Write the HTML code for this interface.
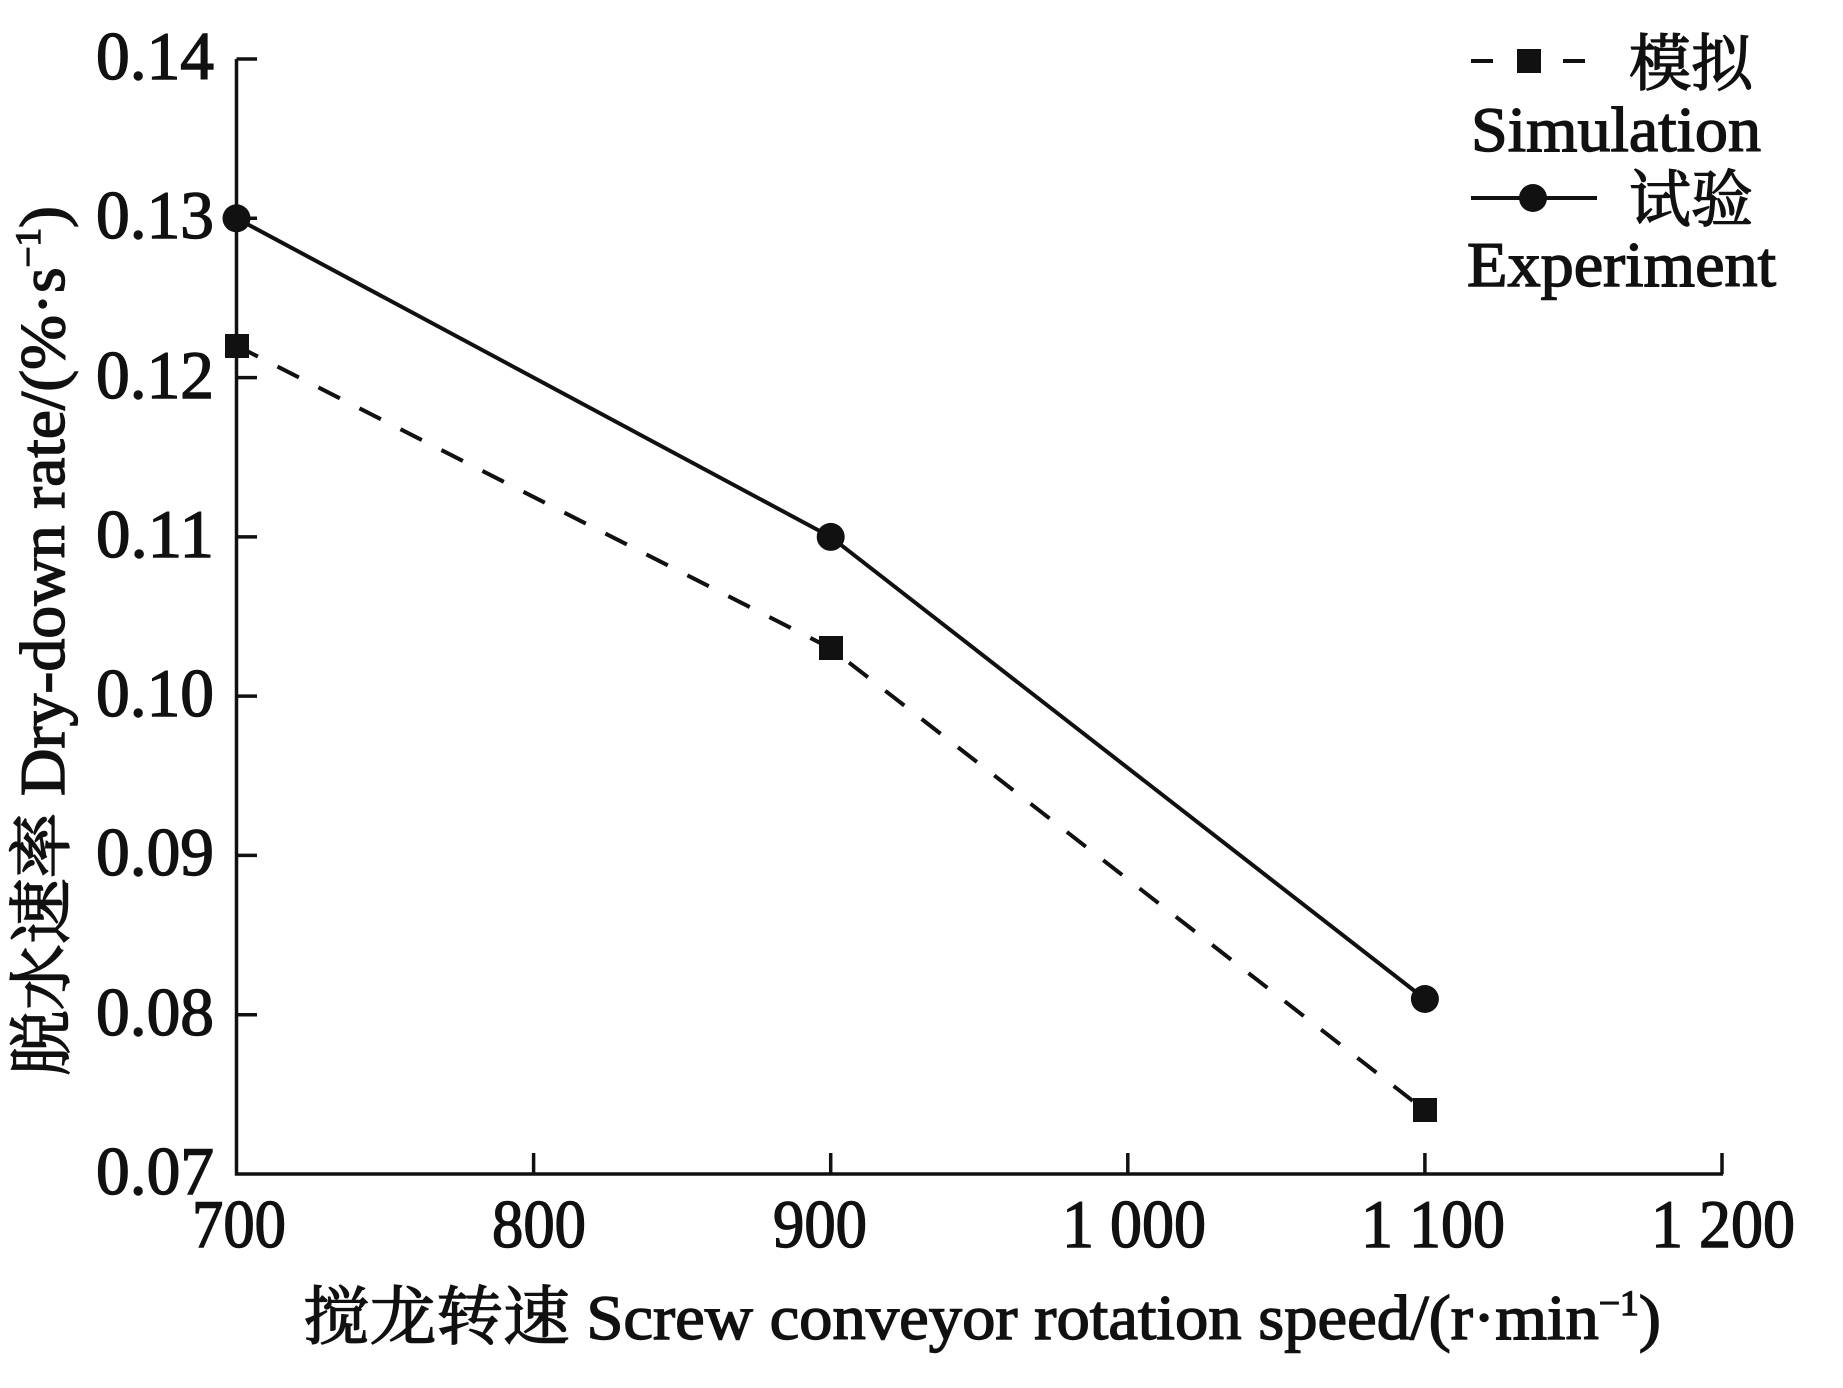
<!DOCTYPE html>
<html><head><meta charset="utf-8"><style>
html,body{margin:0;padding:0;background:#fff}
svg{display:block}
text{font-family:"Liberation Serif","Noto Serif CJK SC",serif;fill:#111;stroke:#111;stroke-width:1.4}
</style></head><body>
<svg width="1843" height="1388" viewBox="0 0 1843 1388" xmlns="http://www.w3.org/2000/svg">
<g stroke="#111" stroke-width="3.5" fill="none">
<line x1="236.5" y1="59" x2="236.5" y2="1175.5"/>
<line x1="235" y1="1174" x2="1723" y2="1174"/>
<line x1="236.5" y1="59" x2="257" y2="59"/>
<line x1="236.5" y1="218.3" x2="257" y2="218.3"/>
<line x1="236.5" y1="377.6" x2="257" y2="377.6"/>
<line x1="236.5" y1="536.9" x2="257" y2="536.9"/>
<line x1="236.5" y1="696.1" x2="257" y2="696.1"/>
<line x1="236.5" y1="855.4" x2="257" y2="855.4"/>
<line x1="236.5" y1="1014.7" x2="257" y2="1014.7"/>
<line x1="533.6" y1="1174" x2="533.6" y2="1153"/>
<line x1="830.7" y1="1174" x2="830.7" y2="1153"/>
<line x1="1127.8" y1="1174" x2="1127.8" y2="1153"/>
<line x1="1424.9" y1="1174" x2="1424.9" y2="1153"/>
<line x1="1722" y1="1174" x2="1722" y2="1153"/>
</g>
<g font-size="68">
<text x="96" y="79" textLength="118" lengthAdjust="spacingAndGlyphs">0.14</text>
<text x="96" y="238" textLength="118" lengthAdjust="spacingAndGlyphs">0.13</text>
<text x="96" y="398" textLength="118" lengthAdjust="spacingAndGlyphs">0.12</text>
<text x="96" y="557" textLength="118" lengthAdjust="spacingAndGlyphs">0.11</text>
<text x="96" y="716" textLength="118" lengthAdjust="spacingAndGlyphs">0.10</text>
<text x="96" y="875" textLength="118" lengthAdjust="spacingAndGlyphs">0.09</text>
<text x="96" y="1035" textLength="118" lengthAdjust="spacingAndGlyphs">0.08</text>
<text x="96" y="1194" textLength="118" lengthAdjust="spacingAndGlyphs">0.07</text>
</g>
<g font-size="68">
<text x="192" y="1247" textLength="94" lengthAdjust="spacingAndGlyphs">700</text>
<text x="492" y="1247" textLength="94" lengthAdjust="spacingAndGlyphs">800</text>
<text x="773" y="1247" textLength="94" lengthAdjust="spacingAndGlyphs">900</text>
<text x="1062" y="1247" textLength="144" lengthAdjust="spacingAndGlyphs">1 000</text>
<text x="1361" y="1247" textLength="144" lengthAdjust="spacingAndGlyphs">1 100</text>
<text x="1651" y="1247" textLength="144" lengthAdjust="spacingAndGlyphs">1 200</text>
</g>
<text x="303" y="1339" font-size="64" textLength="1358" lengthAdjust="spacingAndGlyphs">搅龙转速 Screw conveyor rotation speed/(r·min<tspan font-size="36" dy="-24">−1</tspan><tspan dy="24">)</tspan></text>
<text transform="translate(64,1076) rotate(-90)" font-size="64" textLength="870" lengthAdjust="spacingAndGlyphs">脱水速率 Dry-down rate/(%·s<tspan font-size="36" dy="-24">−1</tspan><tspan dy="24">)</tspan></text>
<polyline points="236.5,345.7 830.7,648.3 1424.9,1110.3" fill="none" stroke="#111" stroke-width="4" stroke-dasharray="24,22"/>
<polyline points="236.5,218.3 830.7,536.9 1424.9,999" fill="none" stroke="#111" stroke-width="4"/>
<g fill="#111">
<rect x="225" y="334" width="24" height="24"/><rect x="819" y="636" width="24" height="24"/><rect x="1413" y="1098" width="24" height="24"/>
<circle cx="236.5" cy="218.3" r="14"/><circle cx="830.7" cy="536.9" r="14"/><circle cx="1424.9" cy="999" r="14"/>
</g>
<line x1="1471" y1="61" x2="1600" y2="61" stroke="#111" stroke-width="4" stroke-dasharray="22,24"/>
<rect x="1517" y="49" width="24" height="24" fill="#111"/>
<text x="1629" y="85" font-size="62">模拟</text>
<text x="1471" y="151" font-size="64" textLength="290" lengthAdjust="spacingAndGlyphs">Simulation</text>
<line x1="1471" y1="198" x2="1597" y2="198" stroke="#111" stroke-width="4"/>
<circle cx="1533" cy="198" r="14" fill="#111"/>
<text x="1629" y="221" font-size="62">试验</text>
<text x="1467" y="286" font-size="64" textLength="309" lengthAdjust="spacingAndGlyphs">Experiment</text>
</svg>
</body></html>
